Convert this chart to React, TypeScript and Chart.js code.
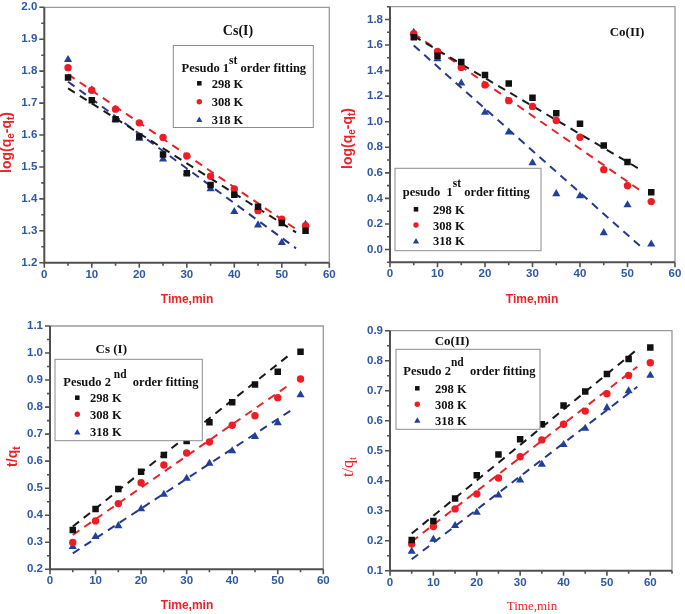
import React, { useEffect, useRef } from 'react';
import { Chart, registerables } from 'chart.js';

Chart.register(...registerables);

const W = 685;
const H = 614;

// ---------------- data ----------------
const timeA = [5, 10, 15, 20, 25, 30, 35, 40, 45, 50, 55];
const timeB = [5, 10, 15, 20, 25, 30, 35, 40, 45, 50, 55, 60];
const seriesLabels = ['298 K', '308 K', '318 K'];

// Cs(I) pseudo 1st order: log(qe-qt)
const csFirst298 = [1.780, 1.709, 1.649, 1.595, 1.539, 1.480, 1.443, 1.413, 1.375, 1.324, 1.300];
const csFirst308 = [1.811, 1.740, 1.681, 1.638, 1.592, 1.534, 1.471, 1.431, 1.363, 1.336, 1.316];
const csFirst318 = [1.836, 1.741, 1.648, 1.589, 1.524, 1.481, 1.431, 1.360, 1.318, 1.263, 1.320];
const csFirstFitX = [5, 53];
const csFirstFit298 = [1.746, 1.295];
const csFirstFit308 = [1.790, 1.305];
const csFirstFit318 = [1.767, 1.245];

// Co(II) pseudo 1st order
const coFirst298 = [1.661, 1.517, 1.468, 1.366, 1.300, 1.187, 1.066, 0.984, 0.814, 0.685, 0.449];
const coFirst308 = [1.688, 1.550, 1.425, 1.288, 1.165, 1.120, 1.010, 0.879, 0.625, 0.499, 0.375];
const coFirst318 = [1.698, 1.491, 1.302, 1.072, 0.918, 0.677, 0.436, 0.420, 0.131, 0.349, 0.042];
const coFirstFitX = [5, 53];
const coFirstFit298 = [1.670, 0.619];
const coFirstFit308 = [1.690, 0.454];
const coFirstFit318 = [1.596, 0.016];

// Cs(I) pseudo 2nd order: t/qt
const csSecond298 = [0.345, 0.423, 0.497, 0.561, 0.623, 0.675, 0.744, 0.818, 0.884, 0.931, 1.005];
const csSecond308 = [0.299, 0.379, 0.443, 0.520, 0.586, 0.630, 0.671, 0.733, 0.768, 0.835, 0.904];
const csSecond318 = [0.284, 0.321, 0.361, 0.423, 0.477, 0.536, 0.592, 0.638, 0.691, 0.742, 0.845];
const csSecondFitX = [5, 53];
const csSecondFit298 = [0.358, 0.999];
const csSecondFit308 = [0.327, 0.888];
const csSecondFit318 = [0.259, 0.789];

// Co(II) pseudo 2nd order
const coSecond298 = [0.202, 0.266, 0.341, 0.418, 0.487, 0.538, 0.588, 0.651, 0.697, 0.756, 0.806, 0.844];
const coSecond308 = [0.189, 0.247, 0.306, 0.356, 0.409, 0.480, 0.536, 0.588, 0.632, 0.690, 0.751, 0.793];
const coSecond318 = [0.164, 0.204, 0.250, 0.294, 0.352, 0.402, 0.454, 0.520, 0.574, 0.643, 0.699, 0.751];
const coSecondFitX = [5, 57];
const coSecondFit298 = [0.224, 0.838];
const coSecondFit308 = [0.197, 0.780];
const coSecondFit318 = [0.138, 0.713];

// tick labels
const xTicks = [0, 10, 20, 30, 40, 50, 60];
const yTicksCsFirst = [1.2, 1.3, 1.4, 1.5, 1.6, 1.7, 1.8, 1.9, 2.0];
const yTicksCoFirst = [0.0, 0.2, 0.4, 0.6, 0.8, 1.0, 1.2, 1.4, 1.6, 1.8];
const yTicksCsSecond = [0.2, 0.3, 0.4, 0.5, 0.6, 0.7, 0.8, 0.9, 1.0, 1.1];
const yTicksCoSecond = [0.1, 0.2, 0.3, 0.4, 0.5, 0.6, 0.7, 0.8, 0.9];

// ---------------- styles ----------------
const SERIF = '"Liberation Serif", "Times New Roman", serif';
const SANS = '"Liberation Sans", Arial, sans-serif';
const TICK_COLOR = '#2e58a6';
const TITLE_RED = '#ec2227';
const COLORS = ['#111111', '#ee1d25', '#22409a'];
const LINE_COLORS = ['#1a1a1a', '#e3262b', '#26388c'];
const STYLES = ['rect', 'circle', 'triangle'];
const RADII = [4.6, 3.7, 4.7];
const LEG_RADII = [3.2, 2.7, 3.6];
const Y_AXIS_W = 40;
const X_AXIS_H = 22;

type Seg = { text: string; font: string; dy?: number };

interface Spec {
  area: { left: number; top: number; right: number; bottom: number };
  xMin: number; xMax: number; yMin: number; yMax: number;
  xTicks: number[]; yTicks: number[];
  x: number[]; series: number[][];
  fitX: number[]; fits: number[][];
  label: { text: string; x: number; y: number; font: string };
  legend: { box: number[]; title: Seg[]; titleX: number; titleY: number; markerX: number; textX: number; rows: number[] };
  xTitle: { segs: Seg[]; x: number; y: number };
  yTitle: { segs: Seg[]; x: number; y: number };
}

const LEG_TITLE = `bold 12.5px ${SERIF}`;
const SUP = `bold 11.5px ${SERIF}`;
const LEG_ENTRY = `bold 12.5px ${SERIF}`;
const AX_SANS = `bold 12px ${SANS}`;
const AX_Y = `bold 14px ${SANS}`;
const AX_SUB = `bold 10px ${SANS}`;

const specs: Spec[] = [
  {
    area: { left: 44.3, top: 7.3, right: 329.3, bottom: 262.7 },
    xMin: 0, xMax: 60, yMin: 1.2, yMax: 2.0,
    xTicks, yTicks: yTicksCsFirst,
    x: timeA, series: [csFirst298, csFirst308, csFirst318],
    fitX: csFirstFitX, fits: [csFirstFit298, csFirstFit308, csFirstFit318],
    label: { text: 'Cs(I)', x: 238, y: 35, font: `bold 14px ${SERIF}` },
    legend: {
      box: [173.3, 45.5, 140, 82],
      title: [
        { text: 'Pesudo 1', font: LEG_TITLE },
        { text: 'st', font: SUP, dy: -8 },
        { text: ' order fitting', font: LEG_TITLE },
      ],
      titleX: 181.5, titleY: 72.3, markerX: 199.3, textX: 211.7, rows: [83.3, 101.7, 119.3],
    },
    xTitle: { segs: [{ text: 'Time,min', font: AX_SANS }], x: 187, y: 302.5 },
    yTitle: {
      segs: [
        { text: 'log(q', font: AX_Y }, { text: 'e', font: AX_SUB, dy: 3 },
        { text: '-q', font: AX_Y }, { text: 't', font: AX_SUB, dy: 3 }, { text: ')', font: AX_Y },
      ],
      x: 11, y: 142.5,
    },
  },
  {
    area: { left: 390, top: 6.7, right: 675, bottom: 262.3 },
    xMin: 0, xMax: 60, yMin: -0.1, yMax: 1.9,
    xTicks, yTicks: yTicksCoFirst,
    x: timeA, series: [coFirst298, coFirst308, coFirst318],
    fitX: coFirstFitX, fits: [coFirstFit298, coFirstFit308, coFirstFit318],
    label: { text: 'Co(II)', x: 627, y: 36, font: `bold 13px ${SERIF}` },
    legend: {
      box: [395, 168.3, 146, 82.4],
      title: [
        { text: 'pesudo  1', font: LEG_TITLE },
        { text: 'st', font: SUP, dy: -9 },
        { text: ' order fitting', font: LEG_TITLE },
      ],
      titleX: 402.7, titleY: 195.5, markerX: 416, textX: 433, rows: [209.3, 225, 240.7],
    },
    xTitle: { segs: [{ text: 'Time,min', font: AX_SANS }], x: 532, y: 302.5 },
    yTitle: {
      segs: [
        { text: 'log(q', font: AX_Y }, { text: 'e', font: AX_SUB, dy: 3 },
        { text: '-q', font: AX_Y }, { text: 't', font: AX_SUB, dy: 3 }, { text: ')', font: AX_Y },
      ],
      x: 352, y: 138.5,
    },
  },
  {
    area: { left: 50, top: 326, right: 323.3, bottom: 569.3 },
    xMin: 0, xMax: 60, yMin: 0.2, yMax: 1.1,
    xTicks, yTicks: yTicksCsSecond,
    x: timeA, series: [csSecond298, csSecond308, csSecond318],
    fitX: csSecondFitX, fits: [csSecondFit298, csSecondFit308, csSecondFit318],
    label: { text: 'Cs (I)', x: 111.3, y: 352.7, font: `bold 13px ${SERIF}` },
    legend: {
      box: [55, 359.3, 147.3, 81.4],
      title: [
        { text: 'Pesudo 2', font: LEG_TITLE },
        { text: ' nd', font: SUP, dy: -8 },
        { text: '  order fitting', font: LEG_TITLE },
      ],
      titleX: 63.3, titleY: 386, markerX: 77.3, textX: 90, rows: [397.7, 414.3, 431.7],
    },
    xTitle: { segs: [{ text: 'Time,min', font: AX_SANS }], x: 187, y: 608.5 },
    yTitle: {
      segs: [{ text: 't/q', font: AX_Y }, { text: 't', font: AX_SUB, dy: 3 }],
      x: 16.5, y: 456.7,
    },
  },
  {
    area: { left: 390, top: 330.7, right: 672, bottom: 570.7 },
    xMin: 0, xMax: 65, yMin: 0.1, yMax: 0.9,
    xTicks, yTicks: yTicksCoSecond,
    x: timeB, series: [coSecond298, coSecond308, coSecond318],
    fitX: coSecondFitX, fits: [coSecondFit298, coSecondFit308, coSecondFit318],
    label: { text: 'Co(II)', x: 452, y: 345, font: `bold 13px ${SERIF}` },
    legend: {
      box: [396, 349.3, 144, 80],
      title: [
        { text: 'Pesudo 2', font: LEG_TITLE },
        { text: 'nd', font: SUP, dy: -9 },
        { text: '  order fitting', font: LEG_TITLE },
      ],
      titleX: 403.3, titleY: 375, markerX: 417.3, textX: 435, rows: [388.3, 404.3, 420],
    },
    xTitle: { segs: [{ text: 'Time,min', font: `13px ${SERIF}` }], x: 532, y: 610 },
    yTitle: {
      segs: [{ text: 't/q', font: `16px ${SERIF}` }, { text: 't', font: `11px ${SERIF}`, dy: 3 }],
      x: 353, y: 467,
    },
  },
];

// ---------------- drawing helpers ----------------
function drawRich(ctx: CanvasRenderingContext2D, segs: Seg[], x: number, y: number, align: 'left' | 'center') {
  const widths = segs.map((s) => {
    ctx.font = s.font;
    return ctx.measureText(s.text).width;
  });
  const total = widths.reduce((a, b) => a + b, 0);
  let cx = align === 'center' ? x - total / 2 : x;
  ctx.textAlign = 'left';
  ctx.textBaseline = 'alphabetic';
  segs.forEach((s, i) => {
    ctx.font = s.font;
    ctx.fillText(s.text, cx, y + (s.dy || 0));
    cx += widths[i];
  });
}

function drawMarker(ctx: CanvasRenderingContext2D, style: string, x: number, y: number, r: number, color: string) {
  ctx.fillStyle = color;
  ctx.beginPath();
  if (style === 'rect') {
    const s = r * Math.SQRT1_2;
    ctx.rect(x - s, y - s, 2 * s, 2 * s);
  } else if (style === 'circle') {
    ctx.arc(x, y, r, 0, Math.PI * 2);
  } else {
    const yy = y + r / 4;
    ctx.moveTo(x, yy - r);
    ctx.lineTo(x + r * Math.sin((2 * Math.PI) / 3), yy + r / 2);
    ctx.lineTo(x - r * Math.sin((2 * Math.PI) / 3), yy + r / 2);
    ctx.closePath();
  }
  ctx.fill();
}

function minorValues(majors: number[], min: number, max: number) {
  const half = (majors[1] - majors[0]) / 2;
  const out: number[] = [];
  let v = majors[0] - Math.floor((majors[0] - min) / half + 1e-6) * half;
  for (; v <= max + 1e-6; v += half) {
    if (!majors.some((m) => Math.abs(m - v) < half / 10)) out.push(v);
  }
  return out;
}

function makeDecor(spec: Spec) {
  return {
    id: 'decor',
    beforeDatasetsDraw(chart: any) {
      const ctx: CanvasRenderingContext2D = chart.ctx;
      const { left, right, top, bottom } = chart.chartArea;
      const xs = chart.scales.x;
      const ys = chart.scales.y;
      ctx.save();
      ctx.strokeStyle = '#9a9a9a';
      ctx.lineWidth = 1.3;
      ctx.beginPath();
      ctx.moveTo(left, top);
      ctx.lineTo(right, top);
      ctx.lineTo(right, bottom);
      ctx.stroke();
      ctx.strokeStyle = '#505050';
      ctx.lineWidth = 1.6;
      ctx.beginPath();
      for (const v of spec.xTicks) {
        const p = xs.getPixelForValue(v);
        ctx.moveTo(p, bottom);
        ctx.lineTo(p, bottom + 5);
      }
      for (const v of minorValues(spec.xTicks, spec.xMin, spec.xMax)) {
        const p = xs.getPixelForValue(v);
        ctx.moveTo(p, bottom);
        ctx.lineTo(p, bottom + 3);
      }
      for (const v of spec.yTicks) {
        const p = ys.getPixelForValue(v);
        ctx.moveTo(left, p);
        ctx.lineTo(left - 5, p);
      }
      for (const v of minorValues(spec.yTicks, spec.yMin, spec.yMax)) {
        const p = ys.getPixelForValue(v);
        ctx.moveTo(left, p);
        ctx.lineTo(left - 3, p);
      }
      ctx.stroke();
      ctx.lineWidth = 2;
      ctx.beginPath();
      ctx.moveTo(left, top);
      ctx.lineTo(left, bottom);
      ctx.lineTo(right, bottom);
      ctx.stroke();
      ctx.restore();
    },
    afterDatasetsDraw(chart: any) {
      const ctx: CanvasRenderingContext2D = chart.ctx;
      ctx.save();
      // panel label
      ctx.fillStyle = '#111';
      ctx.font = spec.label.font;
      ctx.textAlign = 'center';
      ctx.textBaseline = 'alphabetic';
      ctx.fillText(spec.label.text, spec.label.x, spec.label.y);
      // legend
      const lg = spec.legend;
      const [bx, by, bw, bh] = lg.box;
      ctx.fillStyle = '#ffffff';
      ctx.fillRect(bx, by, bw, bh);
      ctx.strokeStyle = '#8c8c8c';
      ctx.lineWidth = 1;
      ctx.strokeRect(bx, by, bw, bh);
      ctx.fillStyle = '#111';
      drawRich(ctx, lg.title, lg.titleX, lg.titleY, 'left');
      lg.rows.forEach((ry, i) => {
        drawMarker(ctx, STYLES[i], lg.markerX, ry, LEG_RADII[i], COLORS[i]);
        ctx.fillStyle = '#111';
        ctx.font = LEG_ENTRY;
        ctx.textAlign = 'left';
        ctx.textBaseline = 'alphabetic';
        ctx.fillText(seriesLabels[i], lg.textX, ry + 4.5);
      });
      // axis titles
      ctx.fillStyle = TITLE_RED;
      drawRich(ctx, spec.xTitle.segs, spec.xTitle.x, spec.xTitle.y, 'center');
      ctx.translate(spec.yTitle.x, spec.yTitle.y);
      ctx.rotate(-Math.PI / 2);
      drawRich(ctx, spec.yTitle.segs, 0, 0, 'center');
      ctx.restore();
    },
  };
}

function makeConfig(spec: Spec) {
  const datasets: any[] = [];
  spec.series.forEach((vals, i) => {
    datasets.push({
      label: seriesLabels[i],
      data: spec.x.map((x, j) => ({ x, y: vals[j] })),
      showLine: false,
      pointStyle: STYLES[i],
      pointRadius: RADII[i],
      pointBackgroundColor: COLORS[i],
      pointBorderColor: COLORS[i],
      pointBorderWidth: 0,
      order: 0,
    });
  });
  spec.fits.forEach((vals, i) => {
    datasets.push({
      label: seriesLabels[i] + ' fit',
      data: spec.fitX.map((x, j) => ({ x, y: vals[j] })),
      showLine: true,
      borderColor: LINE_COLORS[i],
      borderWidth: 2,
      borderDash: [8, 6],
      pointRadius: 0,
      fill: false,
      order: 1,
    });
  });
  const tickFont = { family: SANS, size: 11.5, weight: 'bold' as const };
  return {
    type: 'scatter',
    data: { datasets },
    options: {
      responsive: false,
      animation: false,
      events: [],
      layout: {
        autoPadding: false,
        padding: {
          left: spec.area.left - Y_AXIS_W,
          top: spec.area.top,
          right: W - spec.area.right,
          bottom: H - spec.area.bottom - X_AXIS_H,
        },
      },
      plugins: { legend: { display: false }, tooltip: { enabled: false }, title: { display: false } },
      scales: {
        x: {
          type: 'linear',
          min: spec.xMin,
          max: spec.xMax,
          grid: { display: false, drawTicks: false },
          border: { display: false },
          ticks: {
            autoSkip: false, maxRotation: 0, padding: 5, color: TICK_COLOR, font: tickFont,
            callback: (v: any) => String(v),
          },
          afterBuildTicks: (s: any) => { s.ticks = spec.xTicks.map((v) => ({ value: v })); },
          afterFit: (s: any) => {
            s.height = X_AXIS_H;
            s.paddingLeft = 0; s.paddingRight = 0; s.paddingTop = 0; s.paddingBottom = 0;
          },
        },
        y: {
          type: 'linear',
          min: spec.yMin,
          max: spec.yMax,
          grid: { display: false, drawTicks: false },
          border: { display: false },
          ticks: {
            autoSkip: false, padding: 7, color: TICK_COLOR, font: tickFont,
            callback: (v: any) => Number(v).toFixed(1),
          },
          afterBuildTicks: (s: any) => { s.ticks = spec.yTicks.map((v) => ({ value: v })); },
          afterFit: (s: any) => {
            s.width = Y_AXIS_W;
            s.paddingLeft = 0; s.paddingRight = 0; s.paddingTop = 0; s.paddingBottom = 0;
          },
        },
      },
    },
    plugins: [makeDecor(spec)],
  };
}

function ChartPanel({ spec }: { spec: Spec }) {
  const ref = useRef<HTMLCanvasElement | null>(null);
  useEffect(() => {
    if (!ref.current) return;
    const chart = new Chart(ref.current, makeConfig(spec) as any);
    return () => chart.destroy();
  }, [spec]);
  return (
    <canvas
      ref={ref}
      width={W}
      height={H}
      style={{ position: 'absolute', left: 0, top: 0, width: W, height: H }}
    />
  );
}

export default function App() {
  return (
    <div style={{ position: 'absolute', left: 0, top: 0, width: W, height: H, background: '#ffffff', overflow: 'hidden' }}>
      {specs.map((s, i) => (
        <ChartPanel key={i} spec={s} />
      ))}
    </div>
  );
}
